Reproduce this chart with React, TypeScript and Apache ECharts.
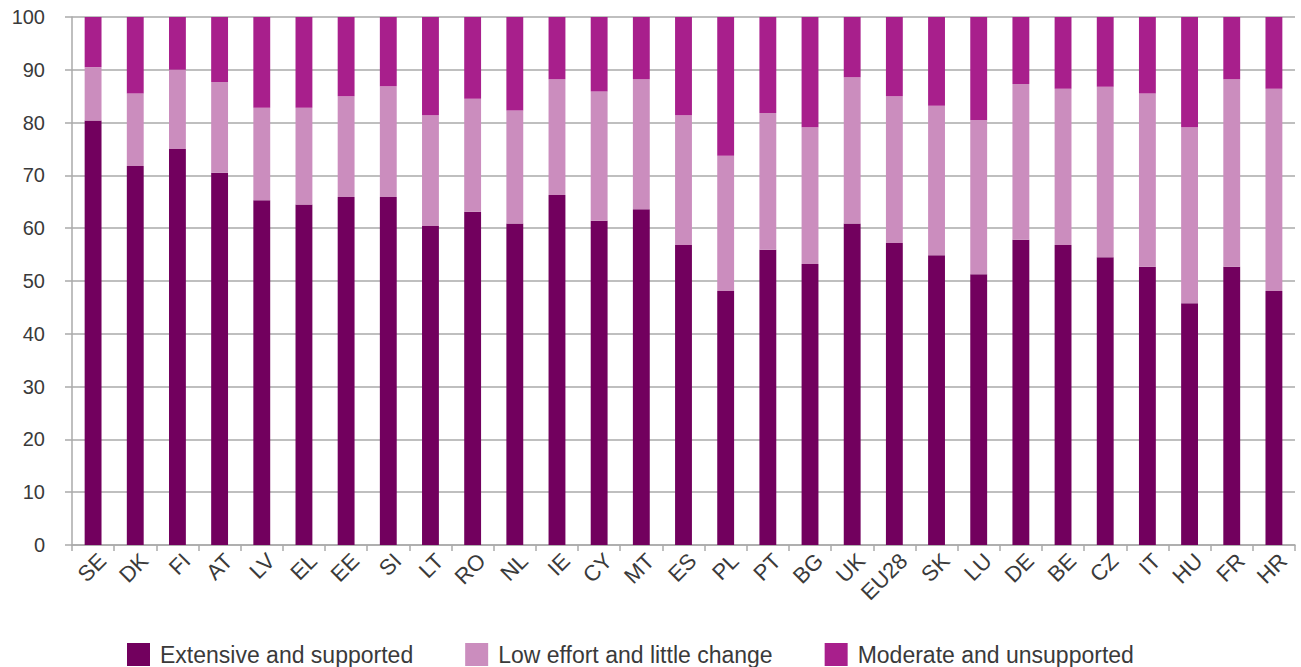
import React, { useEffect, useRef } from "react";
import * as echarts from "echarts";

const categories = ["SE","DK","FI","AT","LV","EL","EE","SI","LT","RO","NL","IE","CY","MT","ES","PL","PT","BG","UK","EU28","SK","LU","DE","BE","CZ","IT","HU","FR","HR"];
// Extensive and supported (bottom segment)
const extensive = [80.4,71.8,75.0,70.5,65.3,64.5,65.9,65.9,60.4,63.1,60.9,66.3,61.4,63.6,56.8,48.1,55.9,53.2,60.9,57.2,54.9,51.3,57.8,56.8,54.5,52.7,45.8,52.7,48.1];
// Cumulative top of "Low effort and little change"
const lowTop = [90.5,85.5,90.0,87.7,82.8,82.8,85.0,86.9,81.4,84.5,82.3,88.2,85.9,88.2,81.4,73.7,81.8,79.1,88.6,85.0,83.2,80.5,87.3,86.4,86.8,85.5,79.1,88.2,86.4];
const lowEffort = lowTop.map((t, i) => +(t - extensive[i]).toFixed(1));
const moderate = lowTop.map((t) => +(100 - t).toFixed(1));

const seriesNames = ["Extensive and supported", "Low effort and little change", "Moderate and unsupported"];
const colors = ["#72005e", "#cb8dbe", "#a81f8c"];

const FONT = "'Liberation Sans', Arial, sans-serif";
const TEXT_COLOR = "#3a3a3a";

export default function App() {
  const ref = useRef<HTMLDivElement>(null);
  useEffect(() => {
    if (!ref.current) return;
    const chart = echarts.init(ref.current, undefined, { renderer: "svg" });
    const data = [extensive, lowEffort, moderate];
    chart.setOption({
      animation: false,
      color: colors,
      textStyle: { fontFamily: FONT },
      grid: { left: 72, right: 6, top: 17, bottom: 122 },
      legend: {
        data: seriesNames,
        top: 638,
        left: 122,
        itemWidth: 23,
        itemHeight: 23,
        itemGap: 52,
        icon: "rect",
        textStyle: { fontSize: 23, color: TEXT_COLOR, fontFamily: FONT, padding: [0, 0, 0, 5] },
      },
      xAxis: {
        type: "category",
        data: categories,
        axisLine: { lineStyle: { color: "#aaa", width: 1.5 } },
        axisTick: { show: true, length: 6, lineStyle: { color: "#aaa", width: 1.5 } },
        axisLabel: {
          rotate: 45,
          interval: 0,
          fontSize: 22,
          color: TEXT_COLOR,
          fontFamily: FONT,
          margin: 3,
          verticalAlign: "top",
          lineHeight: 26,
        },
      },
      yAxis: {
        type: "value",
        min: 0,
        max: 100,
        interval: 10,
        axisLine: { show: true, lineStyle: { color: "#aaa", width: 1.5 } },
        axisTick: { show: true, length: 7, lineStyle: { color: "#aaa", width: 1.5 } },
        splitLine: { show: true, lineStyle: { color: "#aaa", width: 1.5 } },
        axisLabel: {
          fontSize: 20,
          color: TEXT_COLOR,
          fontFamily: FONT,
          margin: 27,
        },
      },
      series: seriesNames.map((name, i) => ({
        name,
        type: "bar",
        stack: "total",
        barWidth: "40%",
        data: data[i],
        itemStyle: { color: colors[i] },
      })),
    });
    return () => chart.dispose();
  }, []);
  return <div ref={ref} style={{ position: "absolute", left: 0, top: 0, width: 1301, height: 667 }} />;
}
